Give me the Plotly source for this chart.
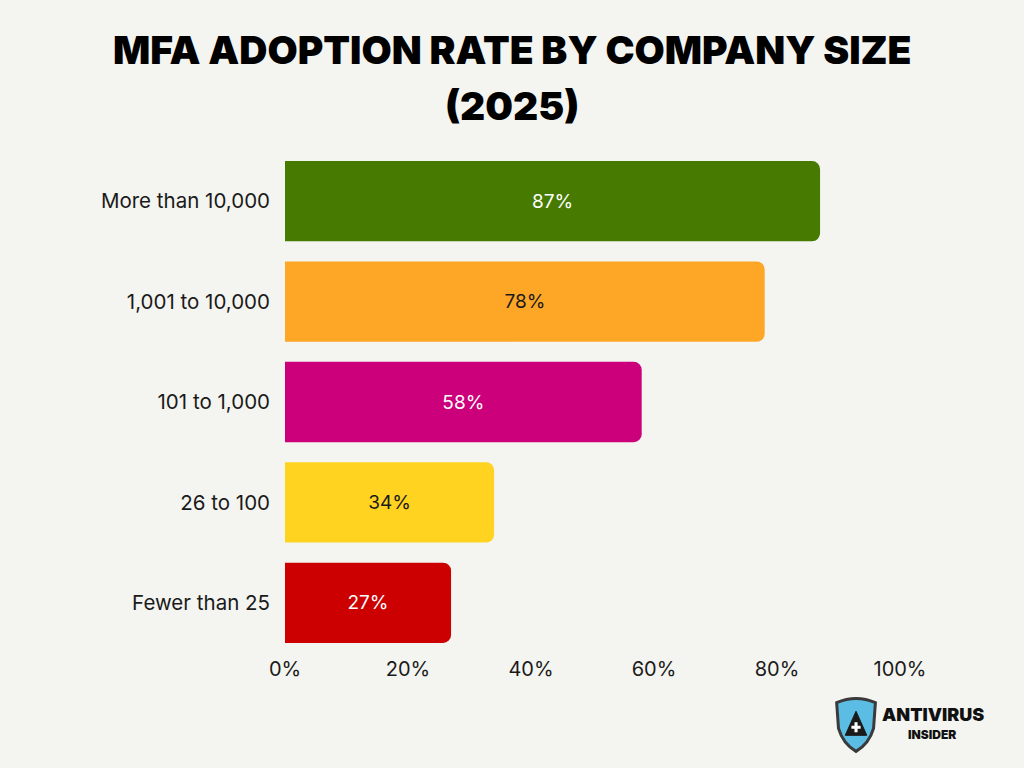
import plotly.graph_objects as go

categories = ["More than 10,000", "1,001 to 10,000", "101 to 1,000", "26 to 100", "Fewer than 25"]
values = [87, 78, 58, 34, 27]
bar_colors = ["#467A00", "#FEA726", "#CC007A", "#FFD320", "#CC0000"]
text_colors = ["#FFFFFF", "#1A1A1A", "#FFFFFF", "#1A1A1A", "#FFFFFF"]
x_ticks = [0, 20, 40, 60, 80, 100]
x_tick_labels = ["0%", "20%", "40%", "60%", "80%", "100%"]
title_lines = ["MFA ADOPTION RATE BY COMPANY SIZE", "(2025)"]

BG = "#F4F4F0"
FONT = "Inter"

fig = go.Figure()
fig.add_trace(go.Bar(
    y=categories,
    x=values,
    orientation="h",
    marker=dict(color=bar_colors, cornerradius=8, line=dict(width=0)),
    text=[f"{v}%" for v in values],
    textposition="inside",
    insidetextanchor="middle",
    textfont=dict(family=FONT, size=19, color=text_colors),
    width=0.8,
    hoverinfo="skip",
))

fig.update_layout(
    width=1024, height=768, autosize=False,
    paper_bgcolor=BG, plot_bgcolor=BG,
    margin=dict(l=285, r=124, t=151, b=115),
    showlegend=False,
    xaxis=dict(
        range=[0, 100], tickvals=x_ticks, ticktext=x_tick_labels,
        showgrid=False, zeroline=False, showline=False, ticks="",
        tickfont=dict(family=FONT, size=20, color="#1A1A1A"),
        ticklabelstandoff=2, fixedrange=True,
    ),
    yaxis=dict(
        categoryorder="array", categoryarray=categories[::-1],
        showgrid=False, zeroline=False, showline=False, ticks="",
        tickfont=dict(family=FONT, size=20.5, color="#1A1A1A"),
        ticklabelstandoff=14, fixedrange=True,
    ),
)

# title as two centred lines (centre of page = 512 px)
title_x = (512 - 285) / 615
for line, ypix in zip(title_lines, [50, 105]):
    fig.add_annotation(
        text=line, xref="paper", yref="paper",
        x=title_x, y=(653 - ypix) / 502, xanchor="center", yanchor="middle",
        showarrow=False, font=dict(family=FONT, size=39, color="#000000", weight=900),
    )

# logo: shield + text
fig.add_shape(
    type="path", xref="paper", yref="paper",
    path=("M 0.897,-0.099 Q 0.9285,-0.082 0.960,-0.099 L 0.957,-0.150 "
          "Q 0.950,-0.180 0.9285,-0.196 Q 0.907,-0.180 0.900,-0.150 Z"),
    fillcolor="#5BBDE4", line=dict(color="#3A3A3A", width=3), layer="above",
)
fig.add_shape(
    type="path", xref="paper", yref="paper",
    path="M 0.9285,-0.116 L 0.946,-0.164 L 0.911,-0.164 Z",
    fillcolor="#1A1A1A", line=dict(color="#1A1A1A", width=1), layer="above",
)
fig.add_shape(
    type="path", xref="paper", yref="paper",
    path=("M 0.926,-0.138 L 0.931,-0.138 L 0.931,-0.145 L 0.936,-0.145 L 0.936,-0.151 "
          "L 0.931,-0.151 L 0.931,-0.158 L 0.926,-0.158 L 0.926,-0.151 L 0.921,-0.151 "
          "L 0.921,-0.145 L 0.926,-0.145 Z"),
    fillcolor="#FFFFFF", line=dict(width=0), layer="above",
)
fig.add_annotation(
    text="ANTIVIRUS", xref="paper", yref="paper", x=(880 - 285) / 615, y=(653 - 714) / 502,
    xanchor="left", yanchor="middle",
    showarrow=False, font=dict(family=FONT, size=18, color="#111111", weight=900),
)
fig.add_annotation(
    text="INSIDER", xref="paper", yref="paper", x=(932 - 285) / 615, y=(653 - 734) / 502,
    xanchor="center", yanchor="middle",
    showarrow=False, font=dict(family=FONT, size=12, color="#111111", weight=900),
)

fig.write_html("out.html")
